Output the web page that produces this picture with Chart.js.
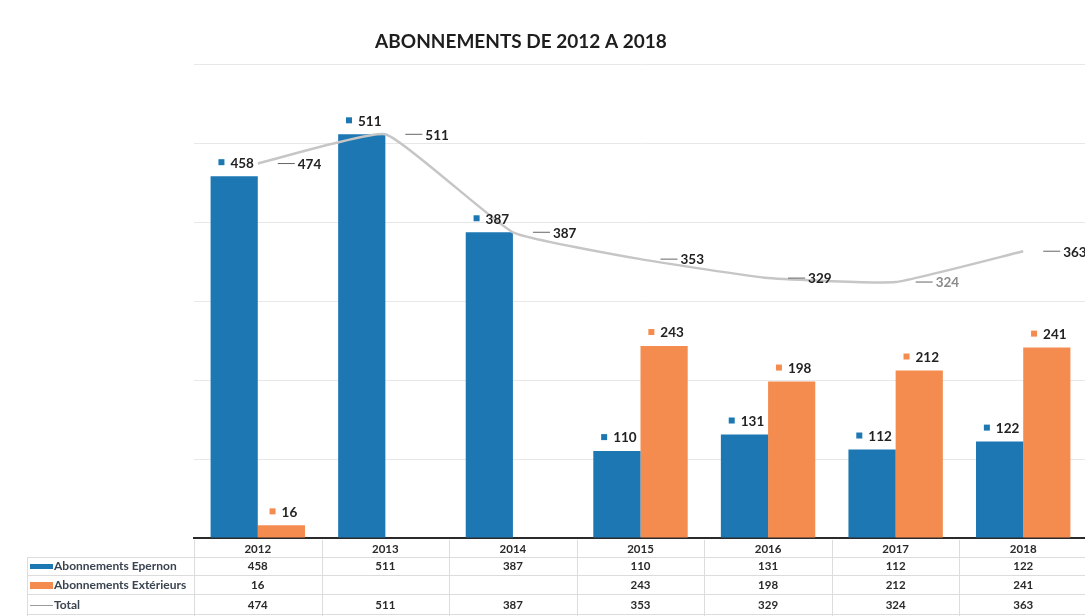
<!DOCTYPE html>
<html lang="fr">
<head>
<meta charset="utf-8">
<title>Abonnements de 2012 à 2018</title>
<script src="https://cdn.jsdelivr.net/npm/chart.js@4.4.1/dist/chart.umd.min.js"></script>
<style>
	html, body { margin: 0; padding: 0; background: #fff; overflow: hidden; }
	#wrap { width: 1100px; height: 616px; }
</style>
</head>
<body>
<div id="wrap"><canvas id="chart" width="1100" height="616"></canvas></div>
<script>
// data
const years = ['2012', '2013', '2014', '2015', '2016', '2017', '2018'];
const epernon = [458, 511, 387, 110, 131, 112, 122];
const exterieurs = [16, null, null, 243, 198, 212, 241];
const total = [474, 511, 387, 353, 329, 324, 363];
const rowLabels = ['Abonnements Epernon', 'Abonnements Extérieurs', 'Total'];
const yTicks = [0, 100, 200, 300, 400, 500, 600];
const title = 'ABONNEMENTS DE 2012 A 2018';

const BLUE = '#1d77b3';
const ORANGE = '#f58c4f';
const GREY = '#c6c6c6';
const FONT = 'Lato, "Open Sans", sans-serif';

(function(){
	// value labels: small square + number over bars, leader line + number right of the line
	const labelsPlugin = {
		id: 'valueLabels',
		afterDatasetsDraw(chart){
			const ctx = chart.ctx;
			ctx.save();
			ctx.font = 'bold 13.5px ' + FONT;
			ctx.textBaseline = 'middle';
			[0, 1].forEach(di => {
				const ds = chart.data.datasets[di];
				chart.getDatasetMeta(di).data.forEach((bar, i) => {
					const v = ds.data[i];
					if(v == null) return;
					const txt = String(v);
					const w = ctx.measureText(txt).width;
					const full = 6 + 6 + w;
					const x0 = bar.x - full/2 + 2;
					const y = bar.y - 14;
					ctx.fillStyle = ds.backgroundColor;
					ctx.fillRect(x0, y - 3, 6, 6);
					ctx.fillStyle = '#222';
					ctx.textAlign = 'left';
					ctx.fillText(txt, x0 + 12, y + 1);
				});
			});
			const lineDs = chart.data.datasets[2];
			chart.getDatasetMeta(2).data.forEach((pt, i) => {
				const v = lineDs.data[i];
				ctx.strokeStyle = '#666';
				ctx.lineWidth = 1;
				ctx.beginPath();
				ctx.moveTo(pt.x + 20, pt.y);
				ctx.lineTo(pt.x + 37, pt.y);
				ctx.stroke();
				ctx.fillStyle = i === 5 ? '#8a8a8a' : '#222';
				ctx.textAlign = 'left';
				ctx.fillText(String(v), pt.x + 40, pt.y + 1);
			});
			ctx.restore();
		}
	};

	// title and the data table under the axis
	const tablePlugin = {
		id: 'dataTable',
		afterDraw(chart){
			const ctx = chart.ctx;
			const xs = chart.scales.x;
			const n = years.length;
			const catW = (xs.right - xs.left) / n;
			const rows = [557, 575, 594, 614];
			ctx.save();

			ctx.fillStyle = '#1e1e1e';
			ctx.font = 'bold 19px ' + FONT;
			ctx.textAlign = 'center';
			ctx.textBaseline = 'middle';
			ctx.fillText(title, 521, 42);

			ctx.strokeStyle = '#dcdcdc';
			ctx.lineWidth = 1;
			rows.forEach(y => {
				ctx.beginPath();
				ctx.moveTo(27, y + 0.5);
				ctx.lineTo(xs.right, y + 0.5);
				ctx.stroke();
			});
			for(let i = 0; i <= n; i++){
				const x = Math.round(xs.left + i*catW) + 0.5;
				ctx.beginPath();
				ctx.moveTo(x, 540);
				ctx.lineTo(x, 616);
				ctx.stroke();
			}
			ctx.beginPath();
			ctx.moveTo(27.5, rows[0]);
			ctx.lineTo(27.5, 616);
			ctx.stroke();

			ctx.font = 'bold 11.5px ' + FONT;
			ctx.fillStyle = '#2a2a2a';
			years.forEach((yr, i) => {
				const x = xs.getPixelForValue(i);
				ctx.fillText(yr, x, 549);
				if(epernon[i] != null) ctx.fillText(String(epernon[i]), x, 566);
				if(exterieurs[i] != null) ctx.fillText(String(exterieurs[i]), x, 585);
				if(total[i] != null) ctx.fillText(String(total[i]), x, 605);
			});

			// legend keys
			const rowY = [566, 585, 605];
			ctx.fillStyle = BLUE;
			ctx.fillRect(30, rowY[0] - 2, 23, 5);
			ctx.fillStyle = ORANGE;
			ctx.fillRect(30, rowY[1] - 3, 23, 7);
			ctx.strokeStyle = '#9a9a9a';
			ctx.beginPath();
			ctx.moveTo(30, rowY[2] + 0.5);
			ctx.lineTo(53, rowY[2] + 0.5);
			ctx.stroke();

			ctx.font = 'bold 12px ' + FONT;
			ctx.fillStyle = '#3a4450';
			ctx.textAlign = 'left';
			rowLabels.forEach((lab, i) => ctx.fillText(lab, 54, rowY[i]));
			ctx.restore();
		}
	};

	new Chart(document.getElementById('chart'), {
		type: 'bar',
		data: {
			labels: years,
			datasets: [
				{ label: rowLabels[0], data: epernon, backgroundColor: BLUE, order: 1, categoryPercentage: 0.74, barPercentage: 1 },
				{ label: rowLabels[1], data: exterieurs, backgroundColor: ORANGE, order: 1, categoryPercentage: 0.74, barPercentage: 1 },
				{ type: 'line', label: rowLabels[2], data: total, borderColor: GREY, borderWidth: 2.5, pointRadius: 0, tension: 0.12, order: 0 }
			]
		},
		options: {
			responsive: false,
			devicePixelRatio: 1,
			animation: false,
			layout: { padding: { left: 194, right: 13, top: 64, bottom: 78 } },
			plugins: { legend: { display: false }, title: { display: false }, tooltip: { enabled: false } },
			scales: {
				x: {
					ticks: { display: false },
					grid: { display: false, drawTicks: false },
					border: { display: true, color: '#2a2a2a', width: 2 },
					afterFit: (s) => { s.height = 0; }
				},
				y: {
					min: yTicks[0],
					max: yTicks[yTicks.length - 1],
					afterBuildTicks: (s) => { s.ticks = yTicks.map(v => ({ value: v })); },
					ticks: { display: false },
					grid: { color: '#e8e8e8', lineWidth: 1, drawTicks: false },
					border: { display: false },
					afterFit: (s) => { s.width = 0; }
				}
			}
		},
		plugins: [labelsPlugin, tablePlugin]
	});
})();
</script>
</body>
</html>
